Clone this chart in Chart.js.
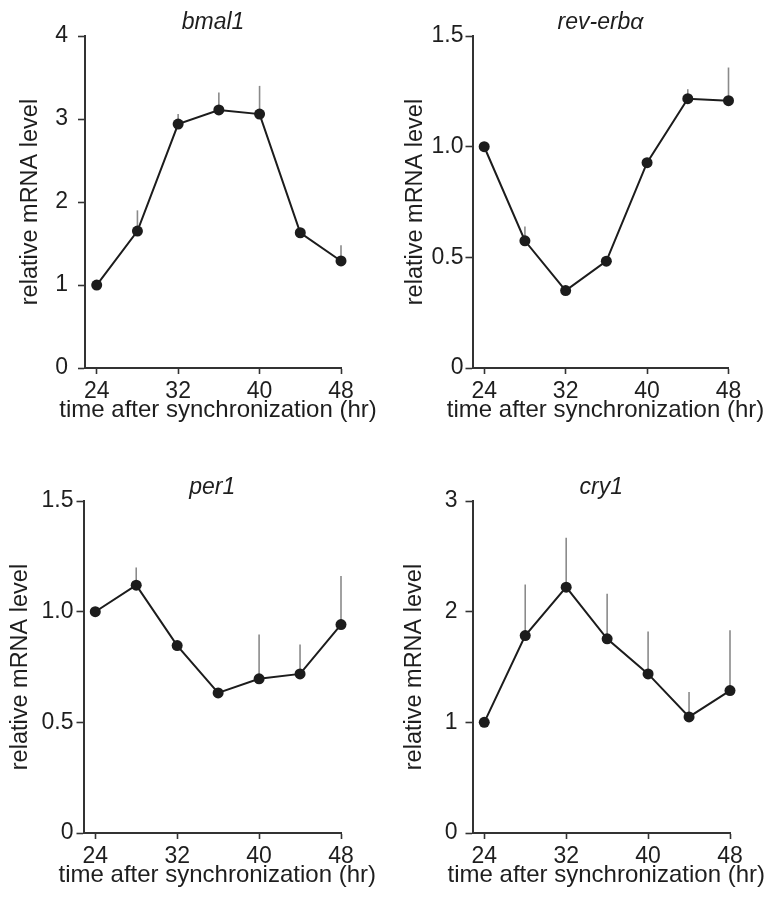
<!DOCTYPE html>
<html>
<head>
<meta charset="utf-8">
<script src="https://cdn.jsdelivr.net/npm/chart.js@4/dist/chart.umd.min.js"></script>
<style>
  html, body { margin: 0; padding: 0; background: #ffffff; }
  #wrap { position: relative; width: 770px; height: 898px; overflow: hidden; background: #ffffff; }
  canvas { position: absolute; }
</style>
</head>
<body>
<div id="wrap"></div>
<script>
// ---------------- DATA ----------------
const timePoints = [24, 28, 32, 36, 40, 44, 48];
const xTickValues = [24, 32, 40, 48];
const xAxisTitle = "time after synchronization (hr)";
const yAxisTitle = "relative mRNA level";

const geneNames = ["bmal1", "rev-erbα", "per1", "cry1"];

const bmal1Mean = [1.00, 1.65, 2.94, 3.11, 3.06, 1.63, 1.29];
const bmal1Err  = [0, 0.25, 0.12, 0.21, 0.34, 0, 0.19];
const bmal1YTicks = [0, 1, 2, 3, 4];
const bmal1YLabels = ["0", "1", "2", "3", "4"];

const revErbMean = [1.00, 0.575, 0.35, 0.483, 0.928, 1.217, 1.208];
const revErbErr  = [0, 0.065, 0, 0, 0, 0.043, 0.15];
const revErbYTicks = [0, 0.5, 1.0, 1.5];
const revErbYLabels = ["0", "0.5", "1.0", "1.5"];

const per1Mean = [1.00, 1.12, 0.847, 0.633, 0.697, 0.719, 0.942];
const per1Err  = [0, 0.08, 0, 0, 0.20, 0.133, 0.219];
const per1YTicks = [0, 0.5, 1.0, 1.5];
const per1YLabels = ["0", "0.5", "1.0", "1.5"];

const cry1Mean = [1.00, 1.785, 2.222, 1.755, 1.438, 1.049, 1.287];
const cry1Err  = [0, 0.461, 0.446, 0.407, 0.383, 0.226, 0.546];
const cry1YTicks = [0, 1, 2, 3];
const cry1YLabels = ["0", "1", "2", "3"];

const xMin = 22.85, xMax = 48;

// ---------------- LAYOUT (positions / styles) ----------------
const FONT = '"Liberation Sans", Arial, Helvetica, sans-serif';
const TEXT = '#1e1e1e';
const AXIS = '#333333';

const panels = [
  { name: geneNames[0], mean: bmal1Mean, err: bmal1Err, yTicks: bmal1YTicks, yLabels: bmal1YLabels,
    left: 0,   top: 0,   axisW: 85,   right: 341, tickPad: 10, yTitlePad: 16 },
  { name: geneNames[1], mean: revErbMean, err: revErbErr, yTicks: revErbYTicks, yLabels: revErbYLabels,
    left: 385, top: 0,   axisW: 87.5, right: 728.5, tickPad: 2, yTitlePad: 16 },
  { name: geneNames[2], mean: per1Mean, err: per1Err, yTicks: per1YTicks, yLabels: per1YLabels,
    left: 0,   top: 465, axisW: 83.5, right: 341, tickPad: 3, yTitlePad: 6 },
  { name: geneNames[3], mean: cry1Mean, err: cry1Err, yTicks: cry1YTicks, yLabels: cry1YLabels,
    left: 385, top: 465, axisW: 87.5, right: 730, tickPad: 8, yTitlePad: 15 }
];

const CW = 385, CH = 423;

const errorBars = {
  id: 'errorBars',
  beforeDatasetsDraw(chart, args, opts) {
    const { ctx, scales: { x, y } } = chart;
    const ds = chart.data.datasets[0];
    const errs = opts.errors || [];
    ctx.save();
    ctx.strokeStyle = opts.color;
    ctx.lineWidth = opts.width;
    ds.data.forEach((p, i) => {
      const e = errs[i];
      if (!e) return;
      const px = x.getPixelForValue(p.x);
      ctx.beginPath();
      ctx.moveTo(px, y.getPixelForValue(p.y));
      ctx.lineTo(px, y.getPixelForValue(p.y + e));
      ctx.stroke();
    });
    ctx.restore();
  }
};

// x-axis title drawn without Chart.js' maxWidth squeeze
const xTitlePlugin = {
  id: 'xTitle',
  afterDraw(chart, args, opts) {
    const { ctx, scales: { x } } = chart;
    ctx.save();
    ctx.font = opts.size + 'px ' + FONT;
    ctx.fillStyle = opts.color;
    ctx.textAlign = 'center';
    ctx.textBaseline = 'middle';
    ctx.fillText(opts.text, (x.left + x.right) / 2 + opts.shift, x.bottom - opts.fromBottom);
    ctx.restore();
  }
};

const wrap = document.getElementById('wrap');

panels.forEach(pn => {
  const cv = document.createElement('canvas');
  cv.width = CW; cv.height = CH;
  cv.style.left = pn.left + 'px';
  cv.style.top = pn.top + 'px';
  cv.style.width = CW + 'px';
  cv.style.height = CH + 'px';
  wrap.appendChild(cv);

  const points = timePoints.map((t, i) => ({ x: t, y: pn.mean[i] }));
  const yMax = pn.yTicks[pn.yTicks.length - 1];

  new Chart(cv.getContext('2d'), {
    type: 'line',
    data: {
      datasets: [{
        data: points,
        borderColor: '#1c1c1c',
        borderWidth: 2,
        pointRadius: 5.5,
        pointBackgroundColor: '#1c1c1c',
        pointBorderColor: '#1c1c1c',
        pointBorderWidth: 0,
        tension: 0,
        clip: false
      }]
    },
    options: {
      responsive: false,
      animation: false,
      devicePixelRatio: 1,
      events: [],
      layout: { padding: { left: 0, right: CW - (pn.right - pn.left), top: 0, bottom: 0 } },
      plugins: {
        legend: { display: false },
        tooltip: { enabled: false },
        title: {
          display: true,
          text: pn.name,
          fullSize: false,
          color: TEXT,
          font: { family: FONT, size: 23, style: 'italic', weight: 'normal', lineHeight: 1.2 },
          padding: { top: 8.5, bottom: 0 }
        },
        errorBars: { errors: pn.err, color: '#8a8a8a', width: 1.6 },
        xTitle: { text: xAxisTitle, size: 24, color: TEXT, shift: 5, fromBottom: 13 }
      },
      scales: {
        x: {
          type: 'linear',
          min: xMin, max: xMax,
          afterBuildTicks: s => { s.ticks = xTickValues.map(v => ({ value: v })); },
          afterFit: s => { s.height = 55; },
          grid: { drawOnChartArea: false, drawTicks: true, tickLength: 6, color: AXIS, tickWidth: 1.6 },
          border: { display: true, color: AXIS, width: 2 },
          ticks: { color: TEXT, padding: 4, maxRotation: 0, autoSkip: false,
                   font: { family: FONT, size: 23 }, callback: v => String(v) },
          title: { display: false }
        },
        y: {
          type: 'linear',
          min: 0, max: yMax,
          afterBuildTicks: s => { s.ticks = pn.yTicks.map(v => ({ value: v })); },
          afterFit: s => { s.width = pn.axisW; },
          grid: { drawOnChartArea: false, drawTicks: true, tickLength: 7, color: AXIS, tickWidth: 1.6 },
          border: { display: true, color: AXIS, width: 2 },
          ticks: { color: TEXT, padding: pn.tickPad, autoSkip: false,
                   font: { family: FONT, size: 23 },
                   callback: v => { const k = pn.yTicks.indexOf(v); return k >= 0 ? pn.yLabels[k] : ''; } },
          title: { display: true, text: yAxisTitle, color: TEXT,
                   font: { family: FONT, size: 23.5 }, padding: { top: pn.yTitlePad, bottom: 0 } }
        }
      }
    },
    plugins: [errorBars, xTitlePlugin]
  });
});
</script>
</body>
</html>
